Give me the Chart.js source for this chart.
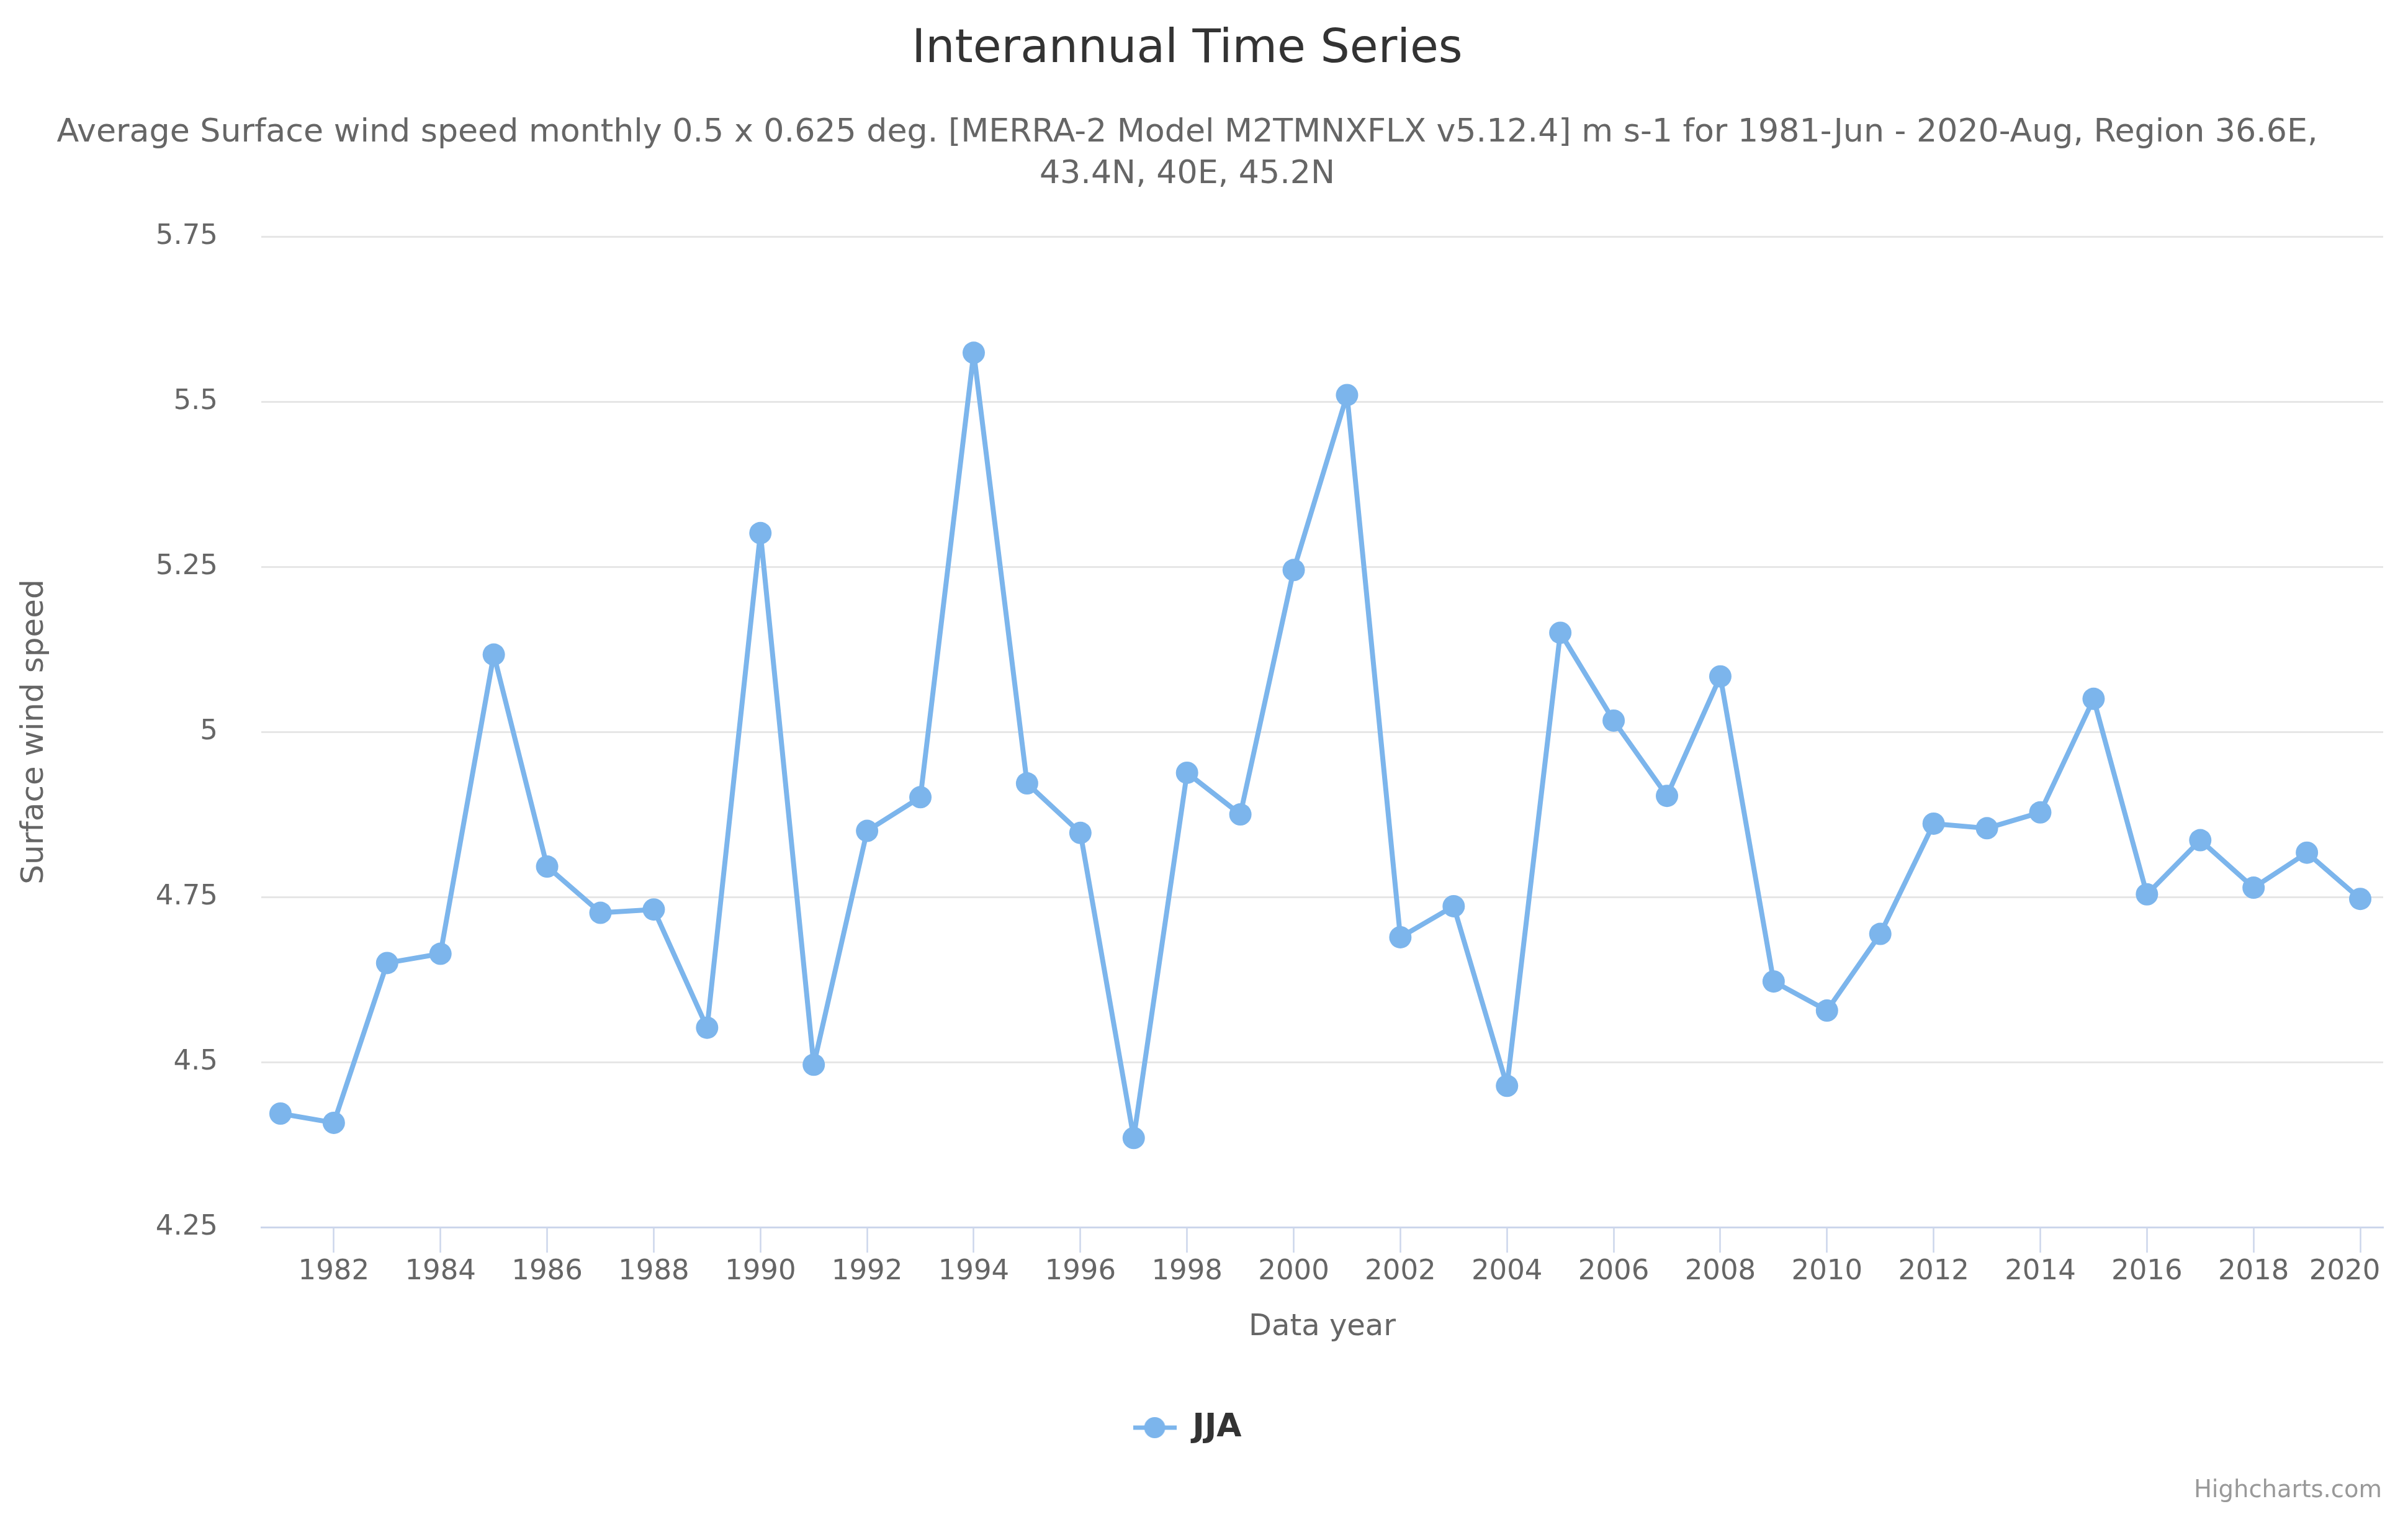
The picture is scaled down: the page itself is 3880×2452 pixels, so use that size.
<!DOCTYPE html>
<html>
<head>
<meta charset="utf-8">
<title>Interannual Time Series</title>
<script src="https://cdn.jsdelivr.net/npm/chart.js@4"></script>
<style>
  html, body { margin: 0; padding: 0; background: #fff; }
  canvas { display: block; }
</style>
</head>
<body>
<canvas id="chart" width="3880" height="2452"></canvas>
<script>
const FONT = '"DejaVu Sans", sans-serif';
const LINE_COLOR = '#7cb5ec';

const years = [1981, 1982, 1983, 1984, 1985, 1986, 1987, 1988, 1989, 1990,
    1991, 1992, 1993, 1994, 1995, 1996, 1997, 1998, 1999, 2000,
    2001, 2002, 2003, 2004, 2005, 2006, 2007, 2008, 2009, 2010,
    2011, 2012, 2013, 2014, 2015, 2016, 2017, 2018, 2019, 2020];
const jja = [4.422, 4.408, 4.65, 4.664, 5.117, 4.796, 4.726, 4.731, 4.552, 5.301,
    4.496, 4.85, 4.901, 5.574, 4.922, 4.847, 4.385, 4.938, 4.875, 5.245,
    5.51, 4.689, 4.736, 4.464, 5.15, 5.017, 4.903, 5.084, 4.622, 4.578,
    4.694, 4.861, 4.854, 4.878, 5.05, 4.754, 4.836, 4.764, 4.817, 4.747];
const xTickYears = [1982, 1984, 1986, 1988, 1990, 1992, 1994, 1996, 1998, 2000,
    2002, 2004, 2006, 2008, 2010, 2012, 2014, 2016, 2018, 2020];
const yTickValues = [4.25, 4.5, 4.75, 5, 5.25, 5.5, 5.75];
const titleText = 'Interannual Time Series';
const subtitleLines = [
    'Average Surface wind speed monthly 0.5 x 0.625 deg. [MERRA-2 Model M2TMNXFLX v5.12.4] m s-1 for 1981-Jun - 2020-Aug, Region 36.6E,',
    '43.4N, 40E, 45.2N'
];

// Legend key: short line with a dot on it
function legendKey() {
    const key = document.createElement('canvas');
    key.width = 70;
    key.height = 36;
    const c = key.getContext('2d');
    c.strokeStyle = LINE_COLOR;
    c.fillStyle = LINE_COLOR;
    c.lineWidth = 7;
    c.beginPath();
    c.moveTo(0, 18);
    c.lineTo(70, 18);
    c.stroke();
    c.beginPath();
    c.arc(35, 18, 17, 0, Math.PI * 2);
    c.fill();
    return key;
}

// Credit text in the bottom right corner, and the last x label kept inside the plot
const creditPlugin = {
    id: 'credit',
    beforeDraw(chart) {
        const x = chart.scales.x;
        const items = x.getLabelItems();
        const last = items[items.length - 1];
        last.options.translation[0] = x.getPixelForValue(2020) - 25;
    },
    afterDraw(chart) {
        const c = chart.ctx;
        c.save();
        c.font = '38.5px ' + FONT;
        c.fillStyle = '#999999';
        c.textAlign = 'right';
        c.textBaseline = 'alphabetic';
        c.fillText('Highcharts.com', 3838, 2412);
        c.restore();
    }
};

new Chart(document.getElementById('chart').getContext('2d'), {
    type: 'line',
    data: {
        labels: years,
        datasets: [{
            label: 'JJA',
            data: years.map((y, i) => ({ x: y, y: jja[i] })),
            borderColor: LINE_COLOR,
            backgroundColor: LINE_COLOR,
            borderWidth: 8,
            borderJoinStyle: 'round',
            pointRadius: 18,
            pointHoverRadius: 18,
            pointBackgroundColor: LINE_COLOR,
            pointBorderWidth: 0,
            tension: 0
        }]
    },
    plugins: [creditPlugin],
    options: {
        responsive: false,
        animation: false,
        devicePixelRatio: 1,
        // left is negative so the title block centres on the reference's x
        layout: { padding: { left: -14, right: 40, top: 0, bottom: 116 } },
        scales: {
            x: {
                type: 'linear',
                min: 1980.64,
                max: 2020.43,
                afterBuildTicks: scale => {
                    scale.ticks = xTickYears.map(v => ({ value: v }));
                },
                grid: {
                    drawOnChartArea: false,
                    drawTicks: true,
                    tickLength: 41,
                    tickColor: '#ccd6eb',
                    tickWidth: 2.5
                },
                border: { color: '#ccd6eb', width: 3 },
                ticks: {
                    autoSkip: false,
                    maxRotation: 0,
                    padding: 4,
                    color: '#666666',
                    font: { family: FONT, size: 45 },
                    callback: v => String(v)
                },
                title: {
                    display: true,
                    text: 'Data year',
                    color: '#666666',
                    font: { family: FONT, size: 48 },
                    padding: { top: 30, bottom: 67 }
                },
                afterFit: scale => { scale.height = 257; }
            },
            y: {
                min: 4.25,
                max: 5.75,
                afterBuildTicks: scale => {
                    scale.ticks = yTickValues.map(v => ({ value: v }));
                },
                grid: { color: '#e6e6e6', lineWidth: 3, drawTicks: false },
                border: { display: false },
                ticks: {
                    padding: 70,
                    color: '#666666',
                    font: { family: FONT, size: 45 },
                    callback: v => String(v)
                },
                title: {
                    display: true,
                    text: 'Surface wind speed',
                    color: '#666666',
                    font: { family: FONT, size: 50 },
                    padding: { top: 40, bottom: 0 }
                },
                afterFit: scale => { scale.width = 435; }
            }
        },
        plugins: {
            title: {
                display: true,
                text: titleText,
                color: '#333333',
                font: { family: FONT, size: 74.5, weight: 'normal', lineHeight: 1.2 },
                padding: { top: 36, bottom: 56 }
            },
            subtitle: {
                display: true,
                text: subtitleLines,
                color: '#666666',
                font: { family: FONT, size: 52.2, weight: 'normal', lineHeight: 1.284 },
                padding: { top: 0, bottom: 65.6 }
            },
            legend: {
                display: true,
                position: 'bottom',
                labels: {
                    usePointStyle: true,
                    pointStyle: legendKey(),
                    pointStyleWidth: 70,
                    color: '#333333',
                    font: { family: FONT, size: 52, weight: 'bold' },
                    padding: 40
                }
            },
            tooltip: { enabled: false }
        }
    }
});
</script>
</body>
</html>
